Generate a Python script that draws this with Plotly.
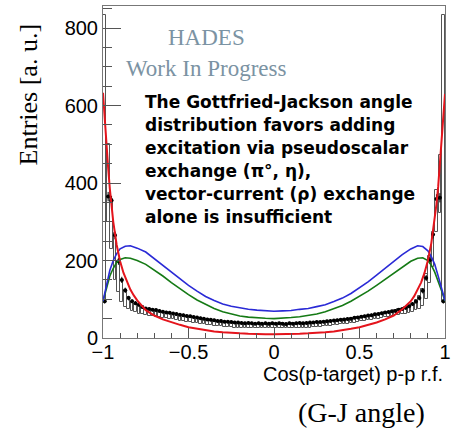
import plotly.graph_objects as go

# ---------------- data ----------------
bin_centers = [round(-0.99 + 0.02 * i, 2) for i in range(100)]

data_vals = [95, 365, 355, 265, 198, 150, 123, 103, 95, 90,
             86, 80, 76, 75, 73, 72, 70, 68, 66, 65,
             63, 62, 60, 59, 57, 56, 54, 53, 51, 50,
             48, 47, 46, 44, 44, 42, 42, 41, 40, 40,
             39, 38, 39, 38, 37, 38, 37, 38, 37, 38,
             37, 38, 37, 36, 38, 37, 38, 39, 38, 39,
             40, 40, 41, 41, 42, 43, 44, 45, 46, 47,
             48, 49, 50, 52, 53, 55, 56, 58, 59, 61,
             62, 64, 66, 67, 69, 70, 73, 75, 78, 82,
             88, 94, 103, 122, 155, 201, 267, 359, 362, 95]
data_errs = [6, 12, 12, 10, 9, 8, 7, 6, 5, 5,
             5, 5, 4, 4, 4, 4, 4, 4, 4, 4,
             4, 4, 4, 4, 4, 4, 4, 4, 4, 4,
             4, 4, 4, 4, 4, 4, 4, 4, 4, 4,
             4, 4, 4, 4, 4, 4, 4, 4, 4, 4,
             4, 4, 4, 4, 4, 4, 4, 4, 4, 4,
             4, 4, 4, 4, 4, 4, 4, 4, 4, 4,
             4, 4, 4, 4, 4, 4, 4, 4, 4, 4,
             4, 4, 4, 4, 4, 4, 4, 4, 5, 5,
             5, 5, 6, 7, 8, 9, 10, 12, 12, 6]

sim_vals = [465, 400, 295, 210, 160, 122, 102, 90, 82, 77,
            73, 70, 67, 65, 63, 62, 60, 58, 57, 55,
            54, 52, 51, 49, 48, 47, 45, 44, 43, 41,
            40, 39, 38, 37, 36, 35, 34, 34, 33, 33,
            32, 32, 31, 32, 31, 31, 32, 31, 31, 32,
            31, 31, 32, 31, 31, 32, 32, 32, 33, 33,
            33, 34, 34, 35, 36, 37, 38, 39, 40, 41,
            42, 43, 45, 46, 47, 49, 50, 52, 53, 55,
            56, 58, 60, 61, 63, 65, 67, 69, 71, 74,
            78, 84, 92, 104, 133, 177, 228, 328, 398, 465]
sim_errs = [370, 100, 65, 60, 40, 28, 22, 15, 12, 11,
            10, 9, 8, 7, 7, 7, 6, 6, 6, 6,
            6, 6, 6, 6, 6, 6, 6, 6, 6, 6,
            6, 6, 6, 6, 6, 6, 6, 6, 6, 6,
            6, 6, 6, 6, 6, 6, 6, 6, 6, 6,
            6, 6, 6, 6, 6, 6, 6, 6, 6, 6,
            6, 6, 6, 6, 6, 6, 6, 6, 6, 6,
            6, 6, 6, 6, 6, 6, 6, 6, 6, 6,
            6, 6, 6, 6, 6, 6, 7, 7, 8, 9,
            11, 13, 16, 22, 33, 35, 45, 55, 75, 370]

curve_x = [-1.0, -0.98, -0.96, -0.94, -0.92, -0.9, -0.87, -0.84, -0.8, -0.75,
           -0.7, -0.65, -0.6, -0.55, -0.5, -0.45, -0.4, -0.35, -0.3, -0.25,
           -0.2, -0.15, -0.1, -0.05, 0.0, 0.05, 0.1, 0.15, 0.2, 0.25,
           0.3, 0.35, 0.4, 0.45, 0.5, 0.55, 0.6, 0.65, 0.7, 0.75,
           0.8, 0.84, 0.87, 0.9, 0.92, 0.94, 0.96, 0.98, 1.0]
blue_vals = [95, 140, 175, 200, 218, 230, 237, 238, 232, 222,
             205, 188, 170, 152, 136, 121, 107, 97, 88, 82,
             78, 74, 72, 70, 69, 70, 71, 74, 76, 81,
             86, 94, 103, 115, 129, 145, 162, 180, 198, 215,
             230, 238, 236, 225, 210, 190, 160, 130, 97]
green_vals = [95, 130, 160, 180, 195, 203, 207, 206, 200, 190,
              176, 160, 143, 127, 112, 98, 86, 76, 68, 62,
              57, 54, 52, 51, 50, 51, 53, 55, 58, 62,
              68, 75, 84, 95, 107, 121, 136, 152, 168, 184,
              198, 206, 207, 200, 188, 170, 148, 122, 95]

red_x = [-1.0, -0.99, -0.98, -0.97, -0.96, -0.95, -0.94, -0.92, -0.9, -0.88,
         -0.86, -0.84, -0.82, -0.8, -0.75, -0.7, -0.65, -0.6, -0.55, -0.5,
         -0.45, -0.4, -0.35, -0.3, -0.25, -0.2, -0.15, -0.1, -0.05, 0.0,
         0.05, 0.1, 0.15, 0.2, 0.25, 0.3, 0.35, 0.4, 0.45, 0.5,
         0.55, 0.6, 0.65, 0.7, 0.75, 0.8, 0.82, 0.84, 0.86, 0.88,
         0.9, 0.92, 0.94, 0.95, 0.96, 0.97, 0.98, 0.99, 1.0]
red_vals = [633, 560, 500, 440, 385, 340, 300, 240, 198, 168,
            145, 125, 110, 97, 72, 58, 48, 40, 34, 28,
            24, 20, 17, 15, 13, 12, 11, 10, 10, 10,
            10, 10, 11, 12, 13, 15, 17, 20, 24, 28,
            34, 40, 48, 58, 74, 95, 108, 124, 143, 168,
            200, 245, 305, 345, 390, 445, 505, 565, 630]

x_tick_vals = [-1, -0.5, 0, 0.5, 1]
x_tick_text = ["\u22121", "\u22120.5", "0", "0.5", "1"]
y_tick_vals = [0, 200, 400, 600, 800]
y_tick_text = ["0", "200", "400", "600", "800"]

note_lines = ["The Gottfried-Jackson angle",
              "distribution favors adding",
              "excitation via pseudoscalar",
              "exchange (\u03c0\u00b0, \u03b7),",
              "vector-current (\u03c1) exchange",
              "alone is insufficient"]

# ---------------- figure ----------------
fig = go.Figure()

sim_lo = [v - e for v, e in zip(sim_vals, sim_errs)]
sim_h = [2 * e for e in sim_errs]
fig.add_trace(go.Bar(x=bin_centers, y=sim_h, base=sim_lo, width=0.016,
                     marker=dict(color="rgba(255,255,255,0)",
                                 line=dict(color="#555555", width=1)),
                     showlegend=False))

fig.add_trace(go.Scatter(x=bin_centers, y=data_vals, mode="markers",
                         marker=dict(color="black", size=4),
                         error_y=dict(type="data", array=data_errs, color="black",
                                      thickness=1, width=0),
                         error_x=dict(type="constant", value=0.01, color="black",
                                      thickness=1, width=0),
                         showlegend=False))

fig.add_trace(go.Scatter(x=curve_x, y=green_vals, mode="lines",
                         line=dict(color="#157a15", width=1.6), showlegend=False))
fig.add_trace(go.Scatter(x=curve_x, y=blue_vals, mode="lines",
                         line=dict(color="#2a2ad6", width=1.6), showlegend=False))
fig.add_trace(go.Scatter(x=red_x, y=red_vals, mode="lines",
                         line=dict(color="#e4141c", width=2), showlegend=False))

axis_font = dict(family="Liberation Sans, Arial, sans-serif", size=20, color="black")
fig.update_xaxes(range=[-1, 1], tickvals=x_tick_vals, ticktext=x_tick_text,
                 ticks="inside", ticklen=10, tickcolor="#555555", ticklabelstandoff=-4,
                 minor=dict(dtick=0.1, ticks="inside", ticklen=5, tickcolor="#555555"),
                 showline=True, linecolor="#777777", linewidth=1, mirror=True,
                 showgrid=False, zeroline=False, tickfont=axis_font)
fig.update_yaxes(range=[0, 857], tickvals=y_tick_vals, ticktext=y_tick_text,
                 ticks="inside", ticklen=18, tickcolor="#555555",
                 minor=dict(dtick=50, ticks="inside", ticklen=9, tickcolor="#555555"),
                 showline=True, linecolor="#777777", linewidth=1, mirror=True,
                 showgrid=False, zeroline=False, tickfont=axis_font)

serif = "Liberation Serif, Times New Roman, serif"
hades_color = "#7b93a3"
annotations = [
    dict(text="HADES", x=0.304, y=0.904, xref="paper", yref="paper",
         xanchor="center", yanchor="middle",
         showarrow=False, font=dict(family=serif, size=23, color=hades_color)),
    dict(text="Work In Progress", x=0.301, y=0.813, xref="paper", yref="paper",
         xanchor="center", yanchor="middle",
         showarrow=False, font=dict(family=serif, size=23, color=hades_color)),
    dict(text="Entries [a. u.]", x=-0.215, y=0.735, xref="paper", yref="paper",
         xanchor="center", yanchor="middle",
         textangle=-90, showarrow=False,
         font=dict(family=serif, size=26, color="black")),
    dict(text="Cos(p-target) p-p r.f.", x=1.0, y=-0.108, xref="paper", yref="paper",
         xanchor="right", yanchor="middle", showarrow=False,
         font=dict(family="Liberation Sans, Arial, sans-serif", size=20, color="black")),
    dict(text="(G-J angle)", x=0.757, y=-0.223, xref="paper", yref="paper",
         xanchor="center", yanchor="middle", showarrow=False,
         font=dict(family=serif, size=28, color="black")),
]
line_top_px = 102.5
line_step_px = 22.8
for i, line in enumerate(note_lines):
    py = line_top_px + i * line_step_px
    annotations.append(dict(text=line, x=0.117, y=(338 - py) / 332,
                            xref="paper", yref="paper",
                            xanchor="left", yanchor="middle", showarrow=False,
                            font=dict(family="DejaVu Sans, sans-serif", size=17,
                                      color="black", weight="bold")))

fig.update_layout(width=466, height=428,
                  margin=dict(l=103, r=21, t=6, b=90),
                  paper_bgcolor="white", plot_bgcolor="white",
                  bargap=0, annotations=annotations)

fig.write_html("out.html")
